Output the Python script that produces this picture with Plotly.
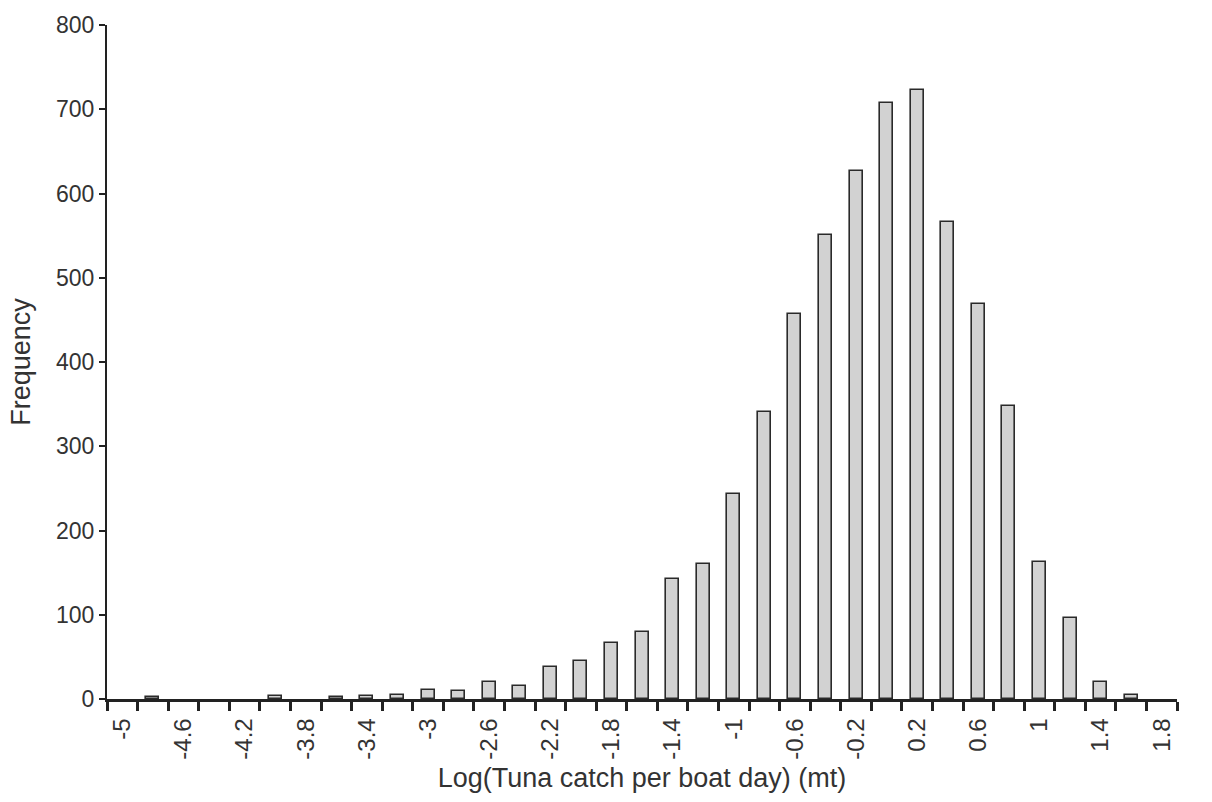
import plotly.graph_objects as go

# Category (bin) values and frequencies
bins = [round(-5 + 0.2 * i, 1) for i in range(35)]
freq = [0, 2, 0, 0, 0, 3, 0, 2, 3, 5,
        11, 10, 20, 15, 38, 45, 67, 80, 143, 160,
        243, 341, 457, 551, 627, 708, 723, 566, 469, 348,
        163, 96, 20, 5, 0]
tick_labels = ["-5", "-4.6", "-4.2", "-3.8", "-3.4", "-3", "-2.6", "-2.2", "-1.8",
               "-1.4", "-1", "-0.6", "-0.2", "0.2", "0.6", "1", "1.4", "1.8"]
tick_vals = [-5, -4.6, -4.2, -3.8, -3.4, -3, -2.6, -2.2, -1.8,
             -1.4, -1, -0.6, -0.2, 0.2, 0.6, 1, 1.4, 1.8]

FONT = "Liberation Sans, Arial, sans-serif"
TXT = "#333333"
AX = "#222222"

line_widths = [1.6 if v > 0 else 0 for v in freq]

fig = go.Figure()
fig.add_trace(go.Bar(
    x=bins, y=freq, width=0.085,
    marker=dict(color="#d2d2d2", line=dict(color="#2a2a2a", width=line_widths)),
    showlegend=False,
))

fig.update_layout(
    width=1212, height=802,
    margin=dict(l=107, r=35, t=25, b=103),
    paper_bgcolor="white", plot_bgcolor="white",
    font=dict(family=FONT, color=TXT, size=22),
    bargap=0,
)
fig.update_xaxes(
    range=[-5.1, 1.9], tickmode="array", tickvals=tick_vals, ticktext=tick_labels,
    tickangle=-90, ticks="outside", ticklen=7, tickcolor="rgba(0,0,0,0)",
    tickfont=dict(size=24, color=TXT, family=FONT),
    minor=dict(tickmode="linear", tick0=-5.1, dtick=0.2, ticks="outside",
               ticklen=9, tickwidth=3, tickcolor=AX, showgrid=False),
    showline=True, linecolor=AX, linewidth=2.5, showgrid=False, zeroline=False,
    title=dict(text="Log(Tuna catch per boat day) (mt)", font=dict(size=27, color=TXT),
               standoff=10),
)
fig.update_yaxes(
    range=[0, 800], tickmode="linear", tick0=0, dtick=100,
    ticks="outside", ticklen=6, tickwidth=2, tickcolor=AX,
    tickfont=dict(size=23, color=TXT, family=FONT),
    showline=True, linecolor=AX, linewidth=2, showgrid=False, zeroline=False,
    title=dict(text="Frequency", font=dict(size=27, color=TXT), standoff=18),
)

fig.write_html("out.html")
